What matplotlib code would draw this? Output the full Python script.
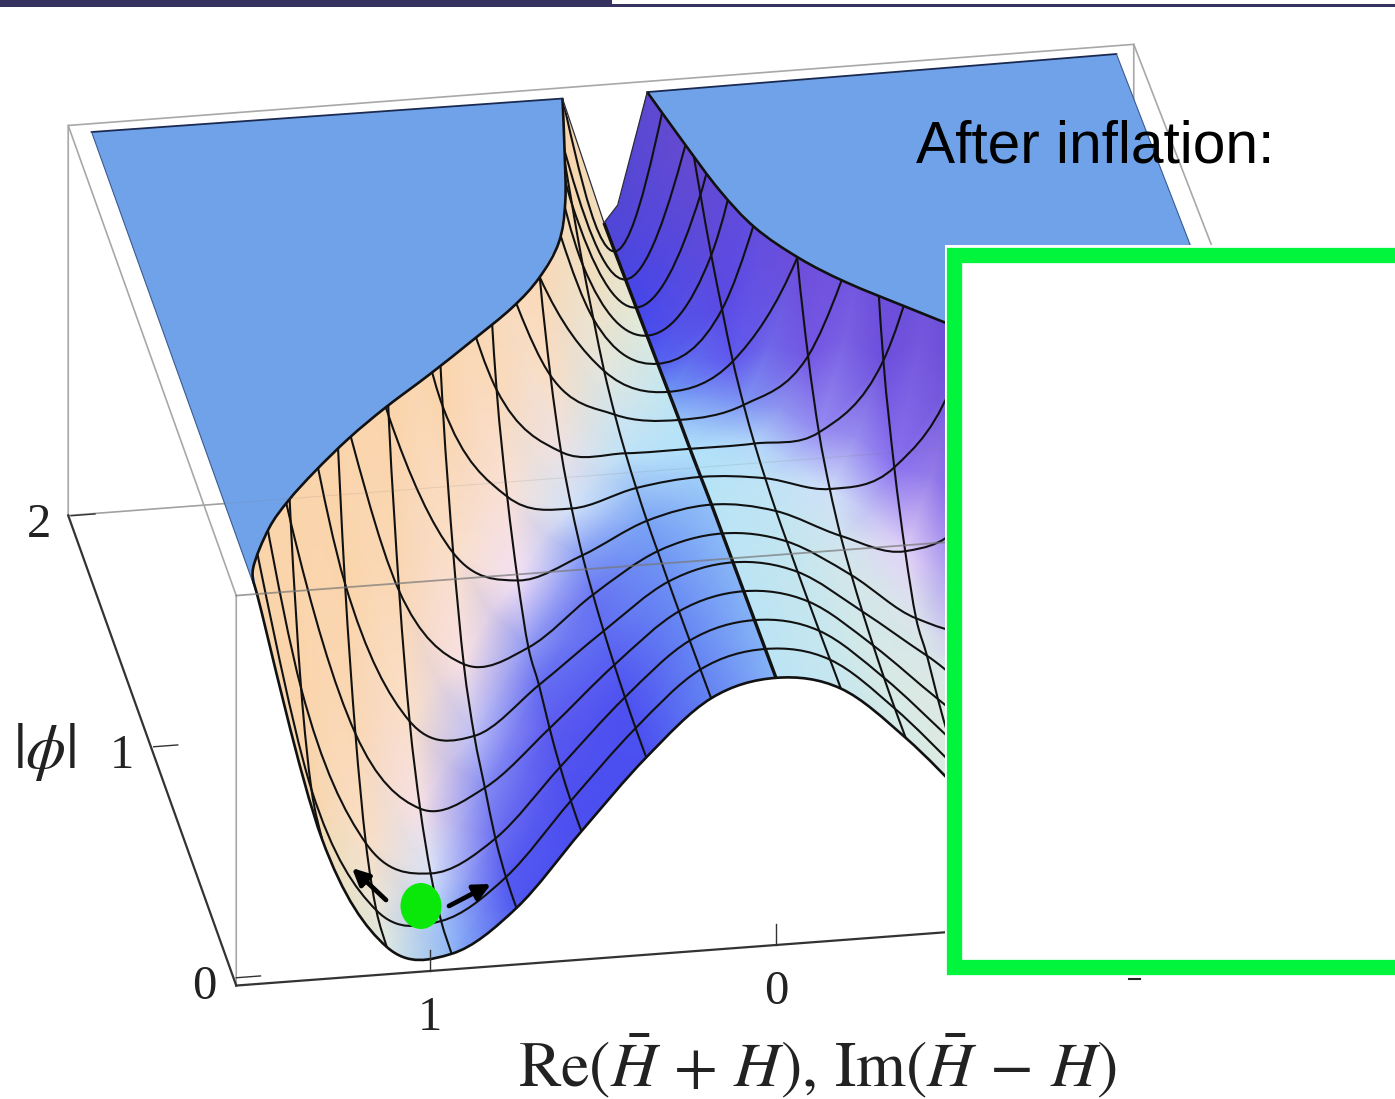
import numpy as np
import matplotlib
matplotlib.use("Agg")
import matplotlib.pyplot as plt
from matplotlib.path import Path
from matplotlib.patches import PathPatch, Rectangle, Ellipse, FancyArrowPatch

plt.rcParams["mathtext.fontset"] = "stix"

# mesh positions of the surface
x_half = [0.0, 0.1875, 0.375, 0.5625, 0.75, 0.9375, 1.125, 1.3125, 1.5]
phi_rows = [0.0, 0.125, 0.25, 0.375, 0.5, 0.625, 0.75, 0.875, 1.0,
            1.125, 1.25, 1.375, 1.5, 1.625, 1.75, 1.875, 2.0]

# surface height read at every mesh node, one list per x line (values over 1 get cut off by the rim)
z_x0 = [0.685, 0.685, 0.685, 0.685, 0.685, 0.685, 0.685, 0.682, 0.68, 0.68, 0.678, 0.676, 0.674, 0.672, 0.67, 0.668, 0.667]
z_x1 = [0.645, 0.645, 0.645, 0.646, 0.648, 0.652, 0.656, 0.666, 0.681, 0.706, 0.744, 0.803, 0.868, 0.949, 1.043, 1.207, 1.45]
z_x2 = [0.506, 0.507, 0.512, 0.521, 0.534, 0.553, 0.58, 0.626, 0.697, 0.819, 0.997, 1.27, 1.5, 1.7, 1.9, 2.1, 2.3]
z_x3 = [0.329, 0.333, 0.346, 0.371, 0.408, 0.43, 0.528, 0.669, 0.869, 1.21, 1.5, 1.7, 1.9, 2.1, 2.3, 2.5, 2.7]
z_x4 = [0.145, 0.15, 0.175, 0.231, 0.29, 0.40, 0.611, 0.913, 1.37, 1.6, 1.8, 2.0, 2.2, 2.4, 2.6, 2.8, 3.0]
z_x5 = [0.04, 0.05, 0.098, 0.19, 0.34, 0.60, 0.975, 1.58, 1.8, 2.0, 2.2, 2.4, 2.6, 2.8, 3.0, 3.2, 3.4]
z_x6 = [0.07, 0.09, 0.188, 0.395, 0.706, 1.16, 1.6, 1.9, 2.1, 2.3, 2.5, 2.7, 2.9, 3.1, 3.3, 3.5, 3.7]
z_x7 = [0.36, 0.412, 0.598, 0.95, 1.48, 1.8, 2.1, 2.3, 2.5, 2.7, 2.9, 3.1, 3.3, 3.5, 3.7, 3.9, 4.1]
z_x8 = [1.0, 1.16, 1.46, 1.8, 2.1, 2.4, 2.6, 2.8, 3.0, 3.2, 3.4, 3.6, 3.8, 4.0, 4.2, 4.4, 4.6]

# where the surface hits the top of the box
rim_x = [1.5, 1.486, 1.40, 1.316, 1.213, 1.082, 0.948, 0.79, 0.633, 0.486, 0.379, 0.286, 0.225, 0.174, 0.124]
rim_phi = [0.0, 0.107, 0.273, 0.385, 0.498, 0.628, 0.745, 0.87, 1.0, 1.126, 1.242, 1.385, 1.554, 1.766, 1.99]

# back edge of the surface, in the gap between the two flat tops
gap_x = [0.0, -0.04]
gap_z = [0.667, 0.71]

x_ticks = [1, 0]
phi_ticks = [0, 1, 2]

# box ranges
x_lim = 1.56
phi_lim = 2.035

# colour stops against the slope along x, for flat and for steep phi direction
slope_stops = [-3.0, -1.5, -0.8, -0.3, 0.0, 1.0, 2.5]
flat_cols = [(80, 70, 215), (70, 70, 235), (75, 80, 240), (115, 160, 245), (178, 226, 250), (222, 236, 226), (240, 226, 190)]
steep_cols = [(105, 75, 205), (110, 80, 225), (135, 110, 240), (190, 170, 245), (245, 225, 248), (250, 225, 205), (250, 212, 170)]


def project(x, phi, z):
    x = np.asarray(x, dtype=float)
    phi = np.asarray(phi, dtype=float)
    z = np.asarray(z, dtype=float)
    sx = 776 - 346 * x - 86 * phi + 2.2 * x * phi
    sy = 945 + 26 * x - 231 * phi - 390 * z
    return sx, sy


def smooth_path(sx, sy):
    # catmull-rom through the nodes, as bezier pieces
    pts = np.column_stack([sx, sy])
    verts = [pts[0]]
    codes = [Path.MOVETO]
    for i in range(len(pts) - 1):
        p0 = pts[max(i - 1, 0)]
        p1 = pts[i]
        p2 = pts[i + 1]
        p3 = pts[min(i + 2, len(pts) - 1)]
        verts += [p1 + (p2 - p0) / 6, p2 - (p3 - p1) / 6, p2]
        codes += [Path.CURVE4] * 3
    return verts, codes


def surface_colors(zz, xx, pp):
    # one half at a time, so the slope at x=0 is one sided
    zx = np.gradient(zz, xx, axis=1)
    zp = np.gradient(zz, pp, axis=0)
    w = np.clip(zp, 0, 1)[..., None]
    flat = np.stack([np.interp(zx, slope_stops, [c[i] for c in flat_cols]) for i in range(3)], axis=-1)
    steep = np.stack([np.interp(zx, slope_stops, [c[i] for c in steep_cols]) for i in range(3)], axis=-1)
    return (flat * (1 - w) + steep * w) / 255


def main():
    fig = plt.figure(figsize=(13.95, 10.99), dpi=100)
    ax = fig.add_axes([0, 0, 1, 1])

    z_half = np.array([z_x0, z_x1, z_x2, z_x3, z_x4, z_x5, z_x6, z_x7, z_x8]).T
    pp = np.array(phi_rows)
    # the surface is even in x: left half goes first, right half is its mirror
    xx = np.concatenate([x_half[::-1], -np.array(x_half[1:])])
    zz = np.hstack([z_half[:, ::-1], z_half[:, 1:]])
    XX, PP = np.meshgrid(xx, pp)
    SX, SY = project(XX, PP, zz)

    grey = "#a8a8a8"
    dark = "#333333"

    # back of the box
    bx, by = project([x_lim, x_lim, -x_lim, -x_lim], [phi_lim, phi_lim, phi_lim, 0], [0, 1, 1, 1])
    ax.plot(bx, by, color=grey, lw=1.2)
    sx, sy = project([x_lim, -x_lim, -x_lim], [phi_lim, phi_lim, phi_lim], [0, 0, 1])
    ax.plot(sx, sy, color=grey, lw=1.2)
    sx, sy = project([x_lim, x_lim, x_lim], [phi_lim, 0, 0], [1, 1, 0])
    ax.plot(sx, sy, color=grey, lw=1.2)

    # flat tops
    rx = np.array(rim_x)
    rp = np.array(rim_phi)
    for side in [1, -1]:
        px = np.concatenate([side * rx, [side * 1.5, side * 1.5]])
        pp2 = np.concatenate([rp, [2.0, 0.0]])
        sx, sy = project(px, pp2, np.ones(len(px)))
        ax.fill(sx, sy, color="#70a2ea", lw=0, zorder=2)
        ax.plot(sx[-3:-1], sy[-3:-1], color="#1a2a50", lw=1.3, zorder=2.5)
        ax.plot(sx[-2:], sy[-2:], color="#3a5a90", lw=0.8, zorder=2.5)

    # outline of the visible surface
    lx, ly = project(rx, rp, np.ones(len(rx)))
    rx2, ry2 = project(-rx, rp, np.ones(len(rx)))
    fx, fy = smooth_path(SX[0], SY[0])
    lv, lc = smooth_path(lx, ly)
    rv, rc = smooth_path(rx2[::-1], ry2[::-1])
    gx, gy = project(gap_x, [2.0, 2.0], gap_z)
    gap_pts = [np.array(p) for p in zip(gx, gy)]
    verts = list(lv) + gap_pts + list(rv) + list(np.array(fx)[::-1])
    codes = list(lc) + [Path.LINETO] * len(gap_pts) + [Path.LINETO] + list(rc[1:]) + [Path.LINETO] + [Path.CURVE4] * (len(fx) - 1)
    clip_patch = PathPatch(Path(np.array(verts), codes), fc="none", ec="none", transform=ax.transData, zorder=0)
    ax.add_patch(clip_patch)

    # extra row under the front line so the fill reaches the curved edge
    mid = len(x_half) - 1
    for part in [slice(0, mid + 1), slice(mid, None)]:
        cols = surface_colors(zz[:, part], xx[part], pp)
        mx = np.vstack([SX[0, part], SX[:, part]])
        my = np.vstack([SY[0, part] + 30, SY[:, part]])
        mc = np.vstack([cols[:1], cols])
        mesh = ax.pcolormesh(mx, my, mc, shading="gouraud", zorder=3)
        mesh.set_clip_path(clip_patch)

    # mesh lines
    for j in range(1, len(pp) - 1):
        v, c = smooth_path(SX[j], SY[j])
        p = PathPatch(Path(np.array(v), c), fc="none", ec="#111111", lw=1.5, zorder=4)
        ax.add_patch(p)
        p.set_clip_path(clip_patch)
    for i in range(1, len(xx) - 1):
        lw = 2.4 if abs(xx[i]) < 1e-9 else 1.5
        v, c = smooth_path(SX[:, i], SY[:, i])
        p = PathPatch(Path(np.array(v), c), fc="none", ec="#111111", lw=lw, zorder=4)
        ax.add_patch(p)
        p.set_clip_path(clip_patch)

    # rim and front curve
    for sxs, sys_ in [(lx, ly), (rx2, ry2), (SX[0], SY[0])]:
        v, c = smooth_path(sxs, sys_)
        ax.add_patch(PathPatch(Path(np.array(v), c), fc="none", ec="#111111", lw=1.9, zorder=5))
    ax.plot([lx[-1], gx[0], gx[1], rx2[-1]], [ly[-1], gy[0], gy[1], ry2[-1]], color="#2a2a3a", lw=0.9, zorder=5)

    # front box edges, seen through the surface
    sx, sy = project([x_lim, -x_lim], [0, 0], [1, 1])
    ax.plot(sx, sy, color="#777777", lw=1.3, alpha=0.7, zorder=6)
    sx, sy = project([x_lim, -x_lim], [phi_lim, phi_lim], [0, 0])
    ax.plot(sx, sy, color="#777777", lw=0.8, alpha=0.15, zorder=6)

    # floor edges and ticks
    sx, sy = project([x_lim, -x_lim], [0, 0], [0, 0])
    ax.plot(sx, sy, color=dark, lw=1.6, zorder=6)
    sx, sy = project([x_lim, x_lim], [0, phi_lim], [0, 0])
    ax.plot(sx, sy, color=dark, lw=1.6, zorder=6)
    for t in x_ticks:
        sx, sy = project([t, t], [0, 0], [0, 0.055])
        ax.plot(sx, sy, color=dark, lw=1.0, zorder=6)
        ax.text(sx[0], sy[0] + 47, str(t), family="Liberation Serif", fontsize=35, color="#222222",
                ha="center", va="center", zorder=6)
    for t in phi_ticks:
        sx, sy = project([x_lim, x_lim - 0.07], [t, t], [0.02, 0.02])
        ax.plot(sx, sy, color=dark, lw=1.0, zorder=6)
        ax.text(sx[0] - 32, sy[0] + 9, str(t), family="Liberation Serif", fontsize=35, color="#222222",
                ha="center", va="center", zorder=6)

    ax.text(45, 752, r"$|\phi|$", fontsize=46, color="#222222", ha="center", va="center")
    ax.text(817, 1066, r"$\mathrm{Re}(\bar{H}\,+\,H),\,\mathrm{Im}(\bar{H}\,-\,H)$", fontsize=46, color="#222222",
            ha="center", va="center")

    # green dot and arrows
    ax.add_patch(Ellipse((421, 906), 41, 46, fc="#0ae80a", ec="none", zorder=7))
    for tail, head in [((386, 900), (352, 868)), ((449, 906), (491, 884))]:
        ax.add_patch(FancyArrowPatch(tail, head, arrowstyle="-|>,head_length=4.5,head_width=2.2", lw=3.4,
                                     color="black", shrinkA=0, shrinkB=0, mutation_scale=2.2, zorder=7))

    # what is left of the hidden -1 label
    ax.plot([1129, 1140], [979, 979], color="#222222", lw=1.5, zorder=7)

    # white panel with green frame
    ax.add_patch(Rectangle((945, 245), 460, 731, fc="white", ec="none", zorder=8))
    ax.add_patch(Rectangle((954, 255), 460, 712, fc="white", ec="#00f53c", lw=11, joinstyle="miter", zorder=9))

    ax.text(1095, 147, "After inflation:", family="Liberation Sans", fontsize=42.2, color="black",
            ha="center", va="center", zorder=10)

    # slide rule on top
    ax.add_patch(Rectangle((0, 0), 612, 6.5, fc="#35325f", ec="none", zorder=10))
    ax.add_patch(Rectangle((612, 4), 783, 3, fc="#35325f", ec="none", zorder=10))

    ax.set_xlim(0, 1395)
    ax.set_ylim(1099, 0)
    ax.axis("off")
    fig.savefig("out.png", dpi=100)


if __name__ == "__main__":
    main()
